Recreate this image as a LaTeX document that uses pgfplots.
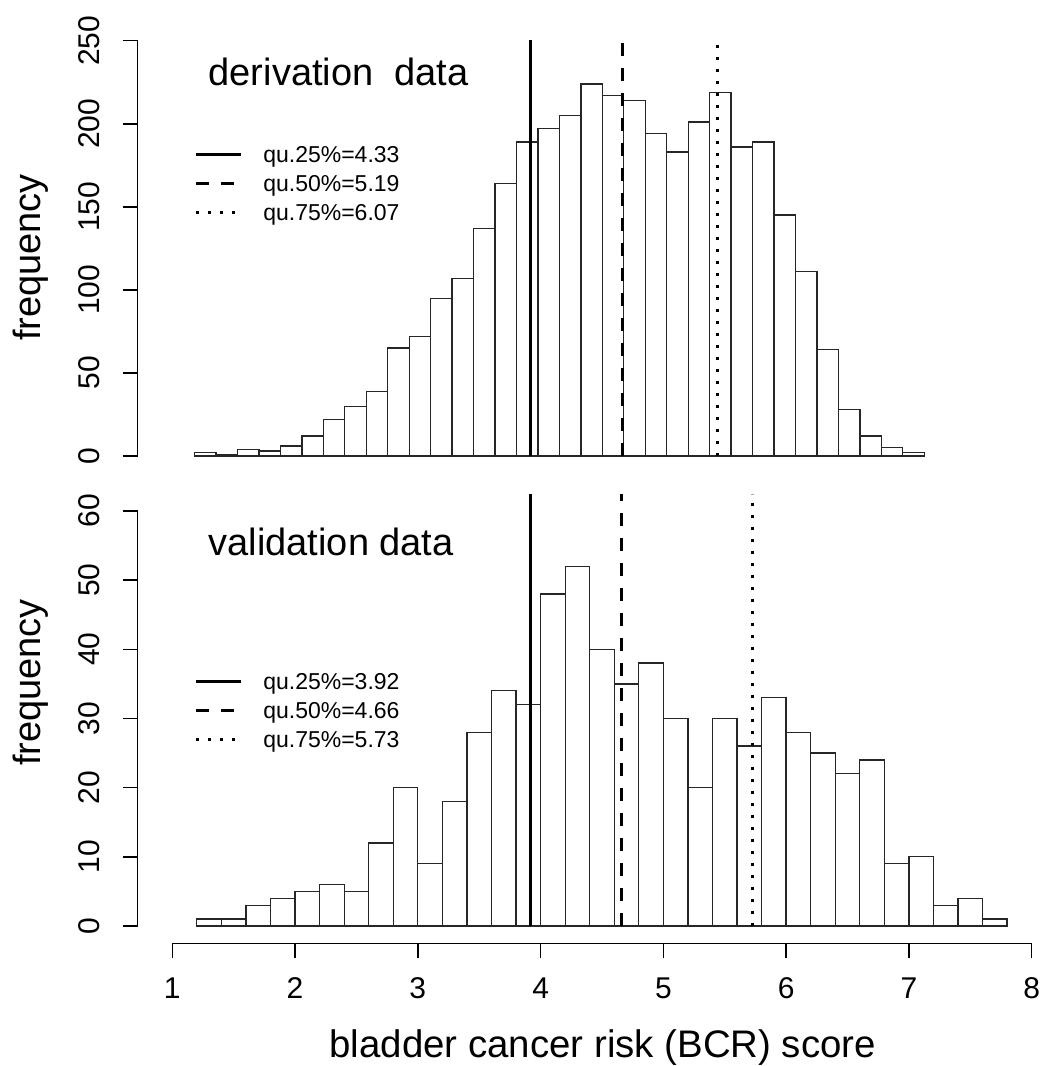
\documentclass[border=0pt]{standalone}
\usepackage{pgfplots}
\pgfplotsset{compat=1.18}
\usepackage{fontspec}
\setmainfont{Liberation Sans}

\pgfplotsset{
  rstyle/.style={
    scale only axis, clip=false,
    axis lines*=left, axis line style={draw=none},
    tick align=outside, major tick length=7.5pt,
    tick style={black, line width=0.75pt},
    /pgf/number format/assume math mode=true,
    ticklabel style={font=\fontsize{15}{18}\selectfont, inner sep=0pt},
    yticklabel style={rotate=90, anchor=south},
    yticklabel shift=11.5pt,
    xticklabel shift=9.5pt,
    every axis y label/.style={rotate=90, anchor=base, font=\fontsize{19}{22}\selectfont},
    every axis x label/.style={anchor=base, font=\fontsize{19.2}{22}\selectfont},
    legend image code/.code={\draw[#1, line cap=butt] (0pt,1pt) -- (22.5pt,1pt);},
    legend cell align=left,
  },
  q25/.style={black, line width=1.5pt},
  q50/.style={black, line width=1.5pt, dash pattern=on 6.5pt off 6pt},
  q75/.style={black, line width=1.5pt, dash pattern=on 1.5pt off 4.5pt},
  bars/.style={ybar interval, fill=white, draw=black!85, line width=0.65pt, forget plot},
  rlegend/.style={legend style={draw=none, fill=none, at={(rel axis cs:0.0626,#1)}, anchor=north west,
      inner sep=0pt, outer sep=0pt, font=\fontsize{11.5}{13}\selectfont,
      row sep=3.5pt, column sep=10.5pt,
      nodes={inner sep=0pt, text height=8.5pt, text depth=2.5pt}}},
}

\begin{document}
\begin{tikzpicture}
\useasboundingbox (0,0) rectangle (521pt,533pt);

% ---------------- derivation data ----------------
\begin{axis}[rstyle, at={(68.85pt,305pt)}, anchor=south west,
  width=452.15pt, height=208pt,
  xmin=0.6697, xmax=9.0975, ymin=0, ymax=250.45,
  xtick=\empty, ytick={0,50,...,250},
  ylabel={frequency},
  every axis y label/.append style={at={(rel axis cs:-0.108,0.4772)}},
  rlegend=0.7459]
\addplot[bars] coordinates {
(1.2,2) (1.4,1) (1.6,4) (1.8,3) (2.0,6) (2.2,12) (2.4,22) (2.6,30) (2.8,39)
(3.0,65) (3.2,72) (3.4,95) (3.6,107) (3.8,137) (4.0,164) (4.2,189) (4.4,197)
(4.6,205) (4.8,224) (5.0,217) (5.2,214) (5.4,194) (5.6,183) (5.8,201) (6.0,219)
(6.2,186) (6.4,189) (6.6,145) (6.8,111) (7.0,64) (7.2,28) (7.4,12) (7.6,5)
(7.8,2) (8.0,2)};
\addplot[black, line width=0.75pt, forget plot] coordinates {(0.6697,0) (0.6697,250)};
\addplot[q25] coordinates {(4.33,0) (4.33,250.45)};
\addlegendentry{qu.25\%=4.33}
\addplot[q50] coordinates {(5.19,0) (5.19,250.45)};
\addlegendentry{qu.50\%=5.19}
\addplot[q75] coordinates {(6.07,0) (6.07,250.45)};
\addlegendentry{qu.75\%=6.07}
\node[anchor=base west, inner sep=0pt, font=\fontsize{19}{22}\selectfont] at (axis cs:1.3277,222.8) {derivation~~data};
\end{axis}

% ---------------- validation data ----------------
\begin{axis}[rstyle, at={(68.85pt,61.35pt)}, anchor=south west,
  width=452.15pt, height=224.65pt,
  xmin=0.7182, xmax=8.084, ymin=-2.5, ymax=62.45,
  xtick={1,...,8}, ytick={0,10,...,60},
  ylabel={frequency},
  every axis y label/.append style={at={(rel axis cs:-0.108,0.5805)}},
  xlabel={bladder cancer risk (BCR) score},
  every axis x label/.append style={at={(rel axis cs:0.5143,-0.2531)}},
  rlegend=0.6032]
\addplot[bars] coordinates {
(1.2,1) (1.4,1) (1.6,3) (1.8,4) (2.0,5) (2.2,6) (2.4,5) (2.6,12) (2.8,20)
(3.0,9) (3.2,18) (3.4,28) (3.6,34) (3.8,32) (4.0,48) (4.2,52) (4.4,40)
(4.6,35) (4.8,38) (5.0,30) (5.2,20) (5.4,30) (5.6,26) (5.8,33) (6.0,28)
(6.2,25) (6.4,22) (6.6,24) (6.8,9) (7.0,10) (7.2,3) (7.4,4) (7.6,1) (7.8,1)};
\addplot[black, line width=0.75pt, forget plot] coordinates {(0.7182,0) (0.7182,60)};
\addplot[black, line width=0.75pt, forget plot] coordinates {(1,-2.5) (8,-2.5)};
\addplot[q25] coordinates {(3.92,0) (3.92,62.45)};
\addlegendentry{qu.25\%=3.92}
\addplot[q50] coordinates {(4.66,0) (4.66,62.45)};
\addlegendentry{qu.50\%=4.66}
\addplot[q75] coordinates {(5.73,0) (5.73,62.45)};
\addlegendentry{qu.75\%=5.73}
\node[anchor=base west, inner sep=0pt, font=\fontsize{19}{22}\selectfont] at (axis cs:1.2932,53.49) {validation data};
\end{axis}
\end{tikzpicture}
\end{document}
